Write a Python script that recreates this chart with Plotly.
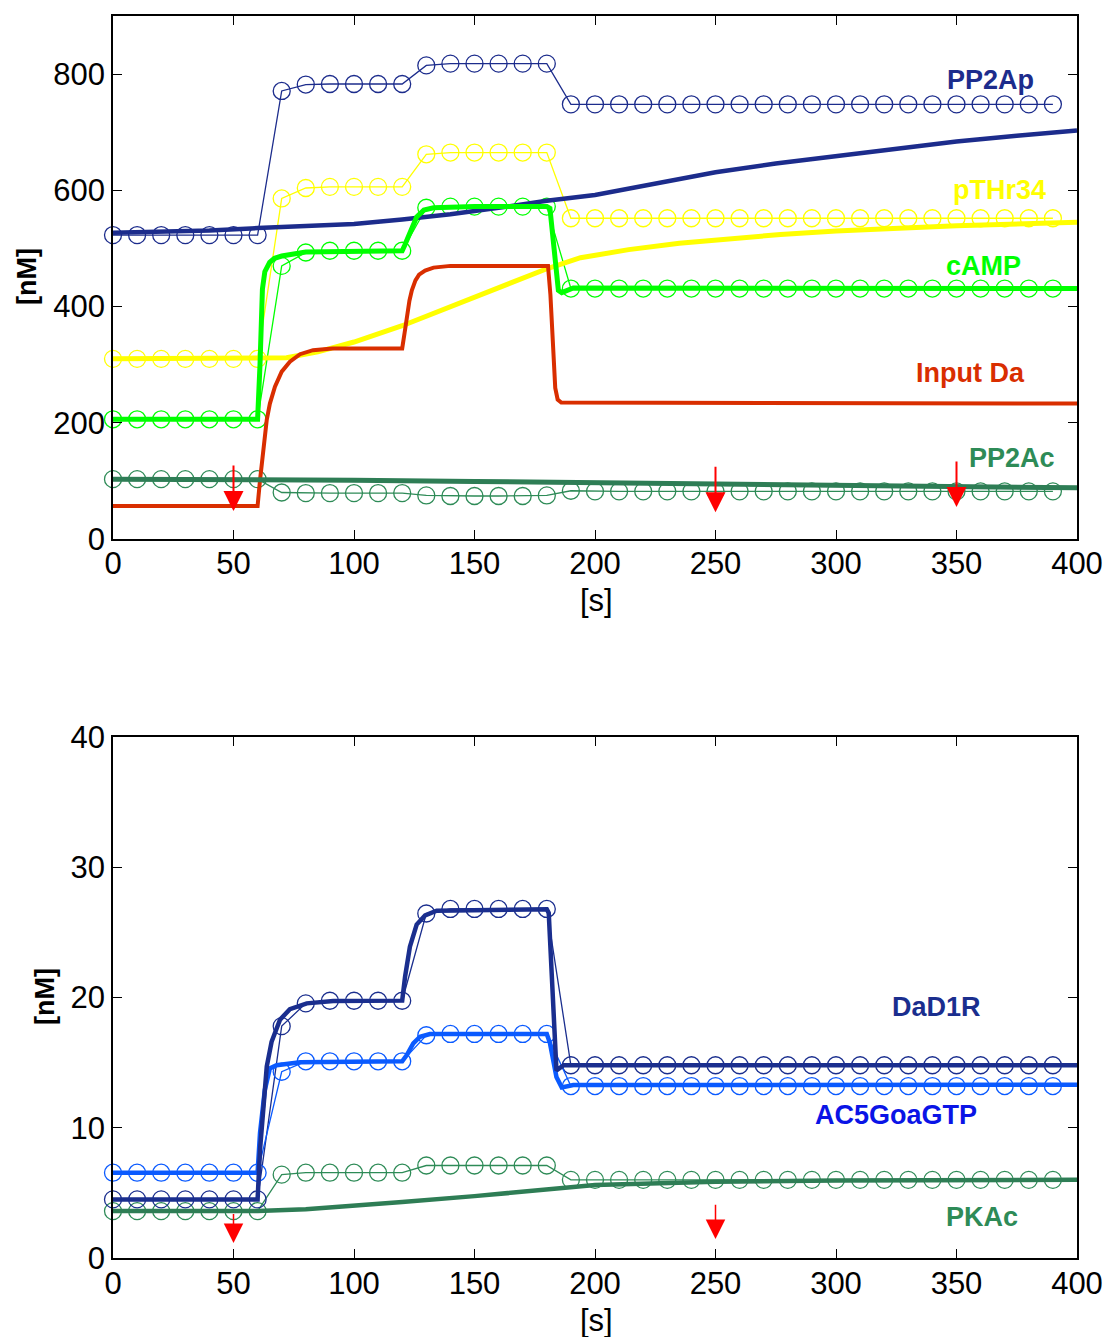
import plotly.graph_objects as go

# ---------------- data ----------------
t_markers = [0, 10, 20, 30, 40, 50, 60, 70, 80, 90, 100, 110, 120, 130, 140, 150, 160, 170, 180, 190,
             200, 210, 220, 230, 240, 250, 260, 270, 280, 290, 300, 310, 320, 330, 340, 350, 360, 370, 380, 390]

# top panel: experimental points (open circles)
pp2ap_m = [523, 523, 523, 523, 523, 523, 523, 771, 782, 783, 783, 783, 783, 815, 818, 818, 818, 818, 818, 748,
           748, 748, 748, 748, 748, 748, 748, 748, 748, 748, 748, 748, 748, 748, 748, 748, 748, 748, 748, 748]
pthr_m = [310, 310, 310, 310, 310, 310, 310, 586, 604, 606, 606, 606, 606, 662, 665, 665, 665, 665, 665, 552,
          552, 552, 552, 552, 552, 552, 552, 552, 552, 552, 552, 552, 552, 552, 552, 552, 552, 552, 552, 552]
camp_m = [206, 206, 206, 206, 206, 206, 206, 470, 493, 496, 496, 496, 496, 570, 572, 572, 572, 572, 572, 431,
          431, 431, 431, 431, 431, 431, 431, 431, 431, 431, 431, 431, 431, 431, 431, 431, 431, 431, 431, 431]
pp2ac_m = [103, 103, 103, 103, 103, 103, 103, 80, 79, 79, 79, 79, 79, 75, 74, 74, 74, 74, 75, 83,
           82, 82, 82, 82, 82, 82, 82, 82, 82, 82, 82, 82, 82, 82, 82, 82, 82, 82, 82, 82]

# top panel: model curves
pp2ap_t = [0, 20, 40, 60, 80, 100, 120, 140, 160, 180, 200, 225, 250, 275, 300, 325, 350, 375, 400]
pp2ap_c = [527, 529, 531, 535, 538, 542, 550, 559, 570, 582, 592, 612, 631, 646, 659, 672, 684, 694, 703]

pthr_t = [0, 60, 72, 85, 100, 120, 140, 152, 166, 180, 194, 214, 235, 260, 277, 300, 318, 350, 400]
pthr_c = [310, 310, 312, 322, 339, 367, 400, 419, 442, 465, 484, 498, 509, 518, 524, 530, 534, 539, 545]

camp_t = [0, 60, 61, 62, 63, 65, 67, 70, 80, 100, 120, 121, 123, 126, 129, 133, 150, 180, 181.3, 184.8, 186.2, 191, 400]
camp_c = [206, 206, 300, 430, 460, 476, 483, 487, 494, 496, 496, 505, 526, 554, 566, 570, 572, 572, 569, 428, 424, 432, 431]

da_t = [0, 60, 61, 62.4, 63.8, 65.1, 67.2, 70, 73.4, 77.6, 83, 91, 120, 121, 122, 123, 124, 125.5, 127, 129.5, 133, 140,
        180.5, 181.5, 182.5, 183.5, 184.5, 186, 400]
da_c = [57, 57, 101, 159, 205, 233, 262, 288, 305, 318, 325, 328, 328, 355, 385, 410, 428, 445, 455, 462, 467, 470,
        470, 420, 340, 260, 240, 235, 233]

pp2ac_t = [0, 60, 100, 150, 200, 250, 300, 350, 400]
pp2ac_c = [103, 102.5, 101, 99, 97, 94.5, 92, 90, 88]

# bottom panel: experimental points
dad1r_m = [4.5, 4.5, 4.5, 4.5, 4.5, 4.5, 4.5, 17.8, 19.55, 19.75, 19.75, 19.75, 19.75, 26.45, 26.8, 26.8, 26.8, 26.8, 26.8, 14.8,
           14.8, 14.8, 14.8, 14.8, 14.8, 14.8, 14.8, 14.8, 14.8, 14.8, 14.8, 14.8, 14.8, 14.8, 14.8, 14.8, 14.8, 14.8, 14.8, 14.8]
ac5_m = [6.55, 6.55, 6.55, 6.55, 6.55, 6.55, 6.55, 14.3, 15.1, 15.1, 15.1, 15.1, 15.1, 17.1, 17.2, 17.2, 17.2, 17.2, 17.2, 13.2,
         13.2, 13.2, 13.2, 13.2, 13.2, 13.2, 13.2, 13.2, 13.2, 13.2, 13.2, 13.2, 13.2, 13.2, 13.2, 13.2, 13.2, 13.2, 13.2, 13.2]
pkac_m = [3.6, 3.6, 3.6, 3.6, 3.6, 3.6, 3.6, 6.4, 6.55, 6.55, 6.55, 6.55, 6.55, 7.1, 7.1, 7.1, 7.1, 7.1, 7.1, 6.0,
          6.0, 6.0, 6.0, 6.0, 6.0, 6.0, 6.0, 6.0, 6.0, 6.0, 6.0, 6.0, 6.0, 6.0, 6.0, 6.0, 6.0, 6.0, 6.0, 6.0]

# bottom panel: model curves
dad1r_t = [0, 60, 61, 62.4, 63.8, 65.8, 69.3, 73.4, 80.4, 91.4, 120, 121.2, 123.2, 126, 129.5, 134.3, 180, 180.8, 182, 183, 184, 187, 400]
dad1r_c = [4.5, 4.5, 8.3, 12.1, 14.7, 16.6, 18.3, 19.1, 19.55, 19.73, 19.76, 21.6, 23.9, 25.6, 26.3, 26.66, 26.77, 26.5, 22, 18, 14.4, 14.8, 14.8]

ac5_t = [0, 60, 61, 63, 65.1, 67.9, 77.6, 120, 121.9, 124.6, 127.4, 131.5, 180, 181.3, 184, 186.2, 191, 400]
ac5_c = [6.55, 6.55, 9.6, 12.9, 14.56, 14.8, 15.02, 15.1, 15.58, 16.48, 16.99, 17.2, 17.2, 16.5, 13.9, 13.1, 13.28, 13.3]

pkac_t = [0, 60, 80, 100, 120, 150, 180, 200, 250, 300, 400]
pkac_c = [3.6, 3.6, 3.75, 4.0, 4.3, 4.75, 5.3, 5.6, 5.85, 5.95, 6.0]

# stimulus arrows
top_arrow_t = [50, 250, 350]
top_arrow_tail = [129, 127, 136]
top_arrow_tip = [48, 46, 55]
bot_arrow_t = [50, 250]
bot_arrow_tail = [3.5, 4.2]
bot_arrow_tip = [1.15, 1.45]

x_ticks = [0, 50, 100, 150, 200, 250, 300, 350, 400]
top_y_ticks = [0, 200, 400, 600, 800]
bot_y_ticks = [0, 10, 20, 30, 40]

# ---------------- styles ----------------
C_PP2AP = "#1c2c8c"
C_PTHR = "#ffff00"
C_CAMP = "#00ff00"
C_DA = "#d92e00"
C_PP2AC = "#2e7d55"
C_PP2AC_M = "#2e8b57"
C_DAD1R = "#1a2e8e"
C_AC5 = "#0a5aff"
C_AC5_LBL = "#0a14e6"
C_PKAC = "#2e7d55"

FONT = "Liberation Sans, Arial, Helvetica, sans-serif"
W, H = 1110, 1337

fig = go.Figure()


def markers(x, y, color, xa, ya):
    fig.add_trace(go.Scatter(
        x=x, y=y, mode="lines+markers", xaxis=xa, yaxis=ya,
        line=dict(color=color, width=1.3),
        marker=dict(symbol="circle-open", size=17, color=color, line=dict(width=1.3, color=color)),
        hoverinfo="skip", cliponaxis=False))


def curve(x, y, color, xa, ya, w=4.5):
    fig.add_trace(go.Scatter(
        x=x, y=y, mode="lines", xaxis=xa, yaxis=ya,
        line=dict(color=color, width=w), hoverinfo="skip"))


# top panel
markers(t_markers, pp2ap_m, C_PP2AP, "x", "y")
markers(t_markers, pthr_m, C_PTHR, "x", "y")
markers(t_markers, camp_m, C_CAMP, "x", "y")
markers(t_markers, pp2ac_m, C_PP2AC_M, "x", "y")
curve(pp2ap_t, pp2ap_c, C_PP2AP, "x", "y")
curve(pthr_t, pthr_c, C_PTHR, "x", "y", 5)
curve(da_t, da_c, C_DA, "x", "y", 4)
curve(camp_t, camp_c, C_CAMP, "x", "y", 5)
curve(pp2ac_t, pp2ac_c, C_PP2AC, "x", "y", 5)

# bottom panel
markers(t_markers, pkac_m, C_PP2AC_M, "x2", "y2")
markers(t_markers, dad1r_m, C_DAD1R, "x2", "y2")
markers(t_markers, ac5_m, C_AC5, "x2", "y2")
curve(pkac_t, pkac_c, C_PKAC, "x2", "y2", 4.5)
curve(ac5_t, ac5_c, C_AC5, "x2", "y2", 4.5)
curve(dad1r_t, dad1r_c, C_DAD1R, "x2", "y2", 4.5)

xdom = [113 / W, 1077 / W]
ax_common = dict(
    showline=True, linecolor="black", linewidth=1.6, mirror="ticks",
    ticks="inside", ticklen=9, tickwidth=1.2, tickcolor="black",
    showgrid=False, zeroline=False, automargin=False,
    tickfont=dict(family=FONT, size=31, color="black"),
)

fig.update_layout(
    width=W, height=H,
    margin=dict(l=0, r=0, t=0, b=0, autoexpand=False),
    paper_bgcolor="white", plot_bgcolor="white",
    showlegend=False,
    xaxis=dict(domain=xdom, range=[0, 400], tickvals=x_ticks, anchor="y", ticklabelstandoff=-4, **ax_common),
    yaxis=dict(domain=[1 - 539 / H, 1 - 16 / H], range=[0, 900], tickvals=top_y_ticks, anchor="x", **ax_common),
    xaxis2=dict(domain=xdom, range=[0, 400], tickvals=x_ticks, anchor="y2", ticklabelstandoff=-3, **ax_common),
    yaxis2=dict(domain=[1 - 1258 / H, 1 - 737 / H], range=[0, 40], tickvals=bot_y_ticks, anchor="x2", **ax_common),
)

ann = []
# series labels
labels_top = [("PP2Ap", 364, 790, C_PP2AP), ("pTHr34", 368, 600, C_PTHR), ("cAMP", 361, 470, C_CAMP),
              ("Input Da", 356, 286, C_DA), ("PP2Ac", 373, 139, C_PP2AC_M)]
for txt, x, y, c in labels_top:
    ann.append(dict(x=x, y=y, xref="x", yref="y", text="<b>%s</b>" % txt, showarrow=False,
                    font=dict(family=FONT, size=27, color=c), xanchor="center", yanchor="middle"))
labels_bot = [("DaD1R", 341.5, 19.3, C_DAD1R), ("AC5GoaGTP", 325, 11.0, C_AC5_LBL), ("PKAc", 360.5, 3.15, C_PP2AC_M)]
for txt, x, y, c in labels_bot:
    ann.append(dict(x=x, y=y, xref="x2", yref="y2", text="<b>%s</b>" % txt, showarrow=False,
                    font=dict(family=FONT, size=27, color=c), xanchor="center", yanchor="middle"))

# axis titles
ann.append(dict(x=596 / W, y=1 - 600 / H, xref="paper", yref="paper", text="[s]", showarrow=False,
                font=dict(family=FONT, size=31, color="black"), xanchor="center", yanchor="middle"))
ann.append(dict(x=596 / W, y=1 - 1320 / H, xref="paper", yref="paper", text="[s]", showarrow=False,
                font=dict(family=FONT, size=31, color="black"), xanchor="center", yanchor="middle"))
ann.append(dict(x=27 / W, y=1 - 277 / H, xref="paper", yref="paper", text="<b>[nM]</b>", showarrow=False,
                textangle=-90, font=dict(family=FONT, size=27, color="black"), xanchor="center", yanchor="middle"))
ann.append(dict(x=45 / W, y=1 - 997 / H, xref="paper", yref="paper", text="<b>[nM]</b>", showarrow=False,
                textangle=-90, font=dict(family=FONT, size=27, color="black"), xanchor="center", yanchor="middle"))

# red stimulus arrows
for t, a, b in zip(top_arrow_t, top_arrow_tail, top_arrow_tip):
    ann.append(dict(x=t, y=b, ax=t, ay=a, xref="x", yref="y", axref="x", ayref="y", text="",
                    showarrow=True, arrowhead=2, arrowsize=2, arrowwidth=2, arrowcolor="#ff0000", standoff=0))
for t, a, b in zip(bot_arrow_t, bot_arrow_tail, bot_arrow_tip):
    ann.append(dict(x=t, y=b, ax=t, ay=a, xref="x2", yref="y2", axref="x2", ayref="y2", text="",
                    showarrow=True, arrowhead=2, arrowsize=2.6, arrowwidth=1.5, arrowcolor="#ff0000", standoff=0))

fig.update_layout(annotations=ann)
fig.write_html("out.html",
               config={"displayModeBar": False},
               post_script="document.body.style.margin='0';document.body.style.padding='0';"
                           "document.body.style.overflow='hidden';")
